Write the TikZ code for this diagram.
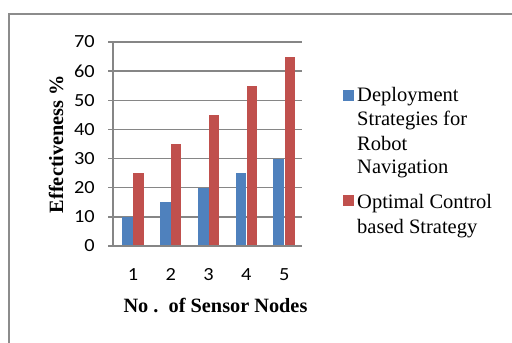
\documentclass[tikz,border=0pt]{standalone}
\usepackage{fontspec}
\setmainfont{Liberation Serif}
\newfontfamily\numfont{Carlito}[FakeStretch=1.1]
\definecolor{serA}{HTML}{4F81BD}
\definecolor{serB}{HTML}{C0504D}
\definecolor{gridc}{HTML}{868686}
\definecolor{framec}{HTML}{8C8C8C}
\tikzset{
  gridline/.style={draw=gridc,line width=1.4pt},
  barA/.style={fill=serA,draw=none},
  barB/.style={fill=serB,draw=none},
  ticklab/.style={font=\numfont\fontsize{18.5}{20}\selectfont,inner sep=0pt},
  legtext/.style={font=\fontsize{20.5}{24}\selectfont,inner sep=0pt,anchor=base west},
  axtitle/.style={font=\bfseries\fontsize{20.3}{24}\selectfont,inner sep=0pt}
}
\begin{document}
\begin{tikzpicture}[x=1pt,y=-1pt]
\useasboundingbox (0,0) rectangle (512,343);
% frame
\draw[framec,line width=1.6pt] (515,14) -- (9,14) -- (9,346);
% gridlines
\foreach \v in {0,10,...,70}{
  \draw[gridline] (108,{246-\v*204/70}) -- (302,{246-\v*204/70});
  \node[ticklab,anchor=east] (yl\v) at (95,{246-\v*204/70}) {\v};
}
% bars
\foreach \i/\a/\b in {1/10/25,2/15/35,3/20/45,4/25/55,5/30/65}{
  \pgfmathsetmacro{\c}{133+37.8*(\i-1)}
  \fill[serA] ({\c-10.8},246) rectangle (\c,{246-\a*204/70});
  \fill[serB] ({\c+0.4},246) rectangle ({\c+10.6},{246-\b*204/70});
  \node[ticklab] (xl\i) at (\c,274.5) {\i};
}
% axis
\draw[gridline] (113,42) -- (113,247);
\draw[gridline] (108,246) -- (302,246);
% titles
\node[axtitle,anchor=base] (xt) at (215.5,312.5) {No .\ \ of Sensor Nodes};
\node[axtitle,anchor=base,rotate=90] (yt) at (63,144) {Effectiveness \%};
% legend
\fill[serA] (343,90) rectangle (354,101);
\node[legtext] (l1) at (357,101.5) {Deployment};
\node[legtext] (l2) at (357,125.8) {Strategies for};
\node[legtext] (l3) at (357,150) {Robot};
\node[legtext] (l4) at (357,173.5) {Navigation};
\fill[serB] (343,195) rectangle (354,206);
\node[legtext] (l5) at (357,208.5) {Optimal Control};
\node[legtext] (l6) at (357,233) {based Strategy};
\end{tikzpicture}
\end{document}
